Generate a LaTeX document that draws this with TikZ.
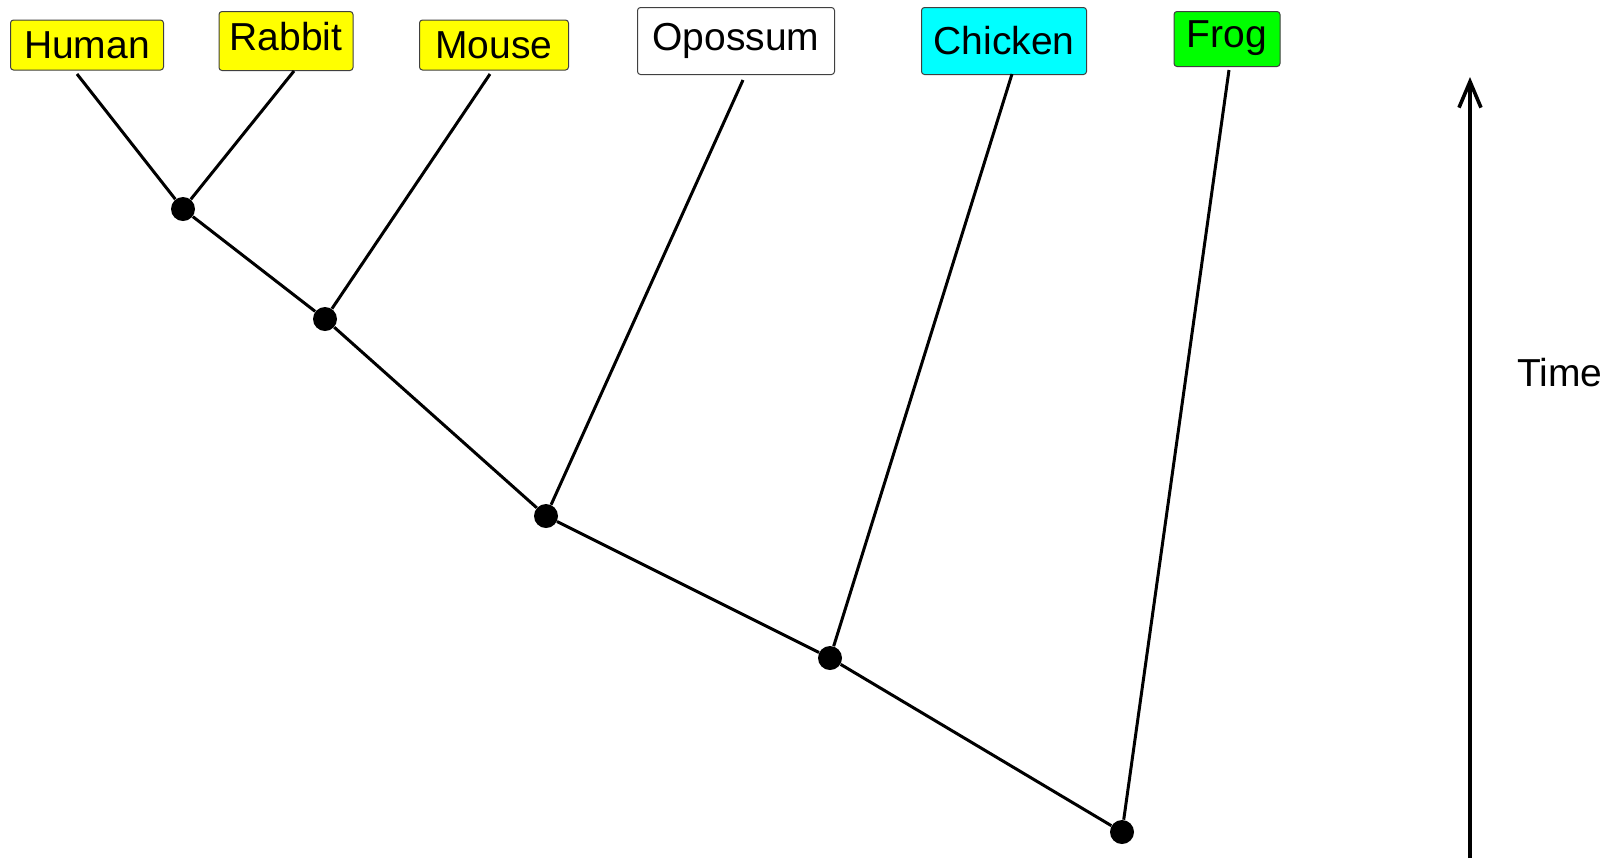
\documentclass[tikz,border=0pt]{standalone}
\usepackage{fontspec}
\setmainfont{Liberation Sans}
\usetikzlibrary{arrows.meta}

\definecolor{mammal}{RGB}{255,255,0}
\definecolor{bird}{RGB}{0,255,255}
\definecolor{amphibian}{RGB}{0,255,0}

\begin{document}
\begin{tikzpicture}[
    x=0.5pt, y=-0.5pt,
    taxon/.style={draw=black!75, line width=0.5pt, rounded corners=1.5pt, inner sep=0pt,
                  font=\fontsize{19.5}{23}\selectfont},
    split/.style={circle, fill=black, inner sep=0pt, minimum size=12pt},
    every edge/.append style={line width=1.5pt}
]
   \useasboundingbox (0,0) rectangle (1619,858);

   % Taxa at the tips
   \node[taxon, fill=mammal, minimum width=76.5pt, minimum height=25pt] (human) at (87,45) {Human};
   \node[taxon, fill=mammal, minimum width=67pt, minimum height=29.5pt, text depth=5pt] (rabbit) at (286,41) {Rabbit};
   \node[taxon, fill=mammal, minimum width=74.5pt, minimum height=25pt] (mouse) at (494,45) {Mouse};
   \node[taxon, fill=white, minimum width=98.5pt, minimum height=33.5pt, text depth=4pt] (opossum) at (736,41) {Opossum};
   \node[taxon, fill=bird, minimum width=82.5pt, minimum height=33.5pt] (chicken) at (1004,41) {Chicken};
   \node[taxon, fill=amphibian, minimum width=53pt, minimum height=27.5pt, text depth=5pt] (frog) at (1227,39) {Frog};

   % Ends of the branches, just below the boxes
   \coordinate (human-top) at (77,74);
   \coordinate (rabbit-top) at (294,71);
   \coordinate (mouse-top) at (490,74);
   \coordinate (opossum-top) at (743,80);
   \coordinate (chicken-top) at (1012,74);
   \coordinate (frog-top) at (1229,70);

   % Splits
   \node[split] (s1) at (183,209) {};
   \node[split] (s2) at (325,319) {};
   \node[split] (s3) at (546,516) {};
   \node[split] (s4) at (830,658) {};
   \node[split] (s5) at (1122,832) {};

   % Branches
   \path
   (s1) edge (human-top)
   (s1) edge (rabbit-top)
   (s2) edge (mouse-top)
   (s3) edge (opossum-top)
   (s4) edge (chicken-top)
   (s5) edge (frog-top)

   (s1) edge (s2)
   (s2) edge (s3)
   (s3) edge (s4)
   (s4) edge (s5);

   % Time axis
   \coordinate (t-base) at (1470,858);
   \coordinate (t-head) at (1470,77);
   \draw[line width=2pt, -{Straight Barb[length=13pt, width=11pt, line width=1.8pt]}] (t-base) -- (t-head);
   \node[font=\fontsize{19.5}{23}\selectfont] (time) at (1560,373) {Time};

\end{tikzpicture}
\end{document}
